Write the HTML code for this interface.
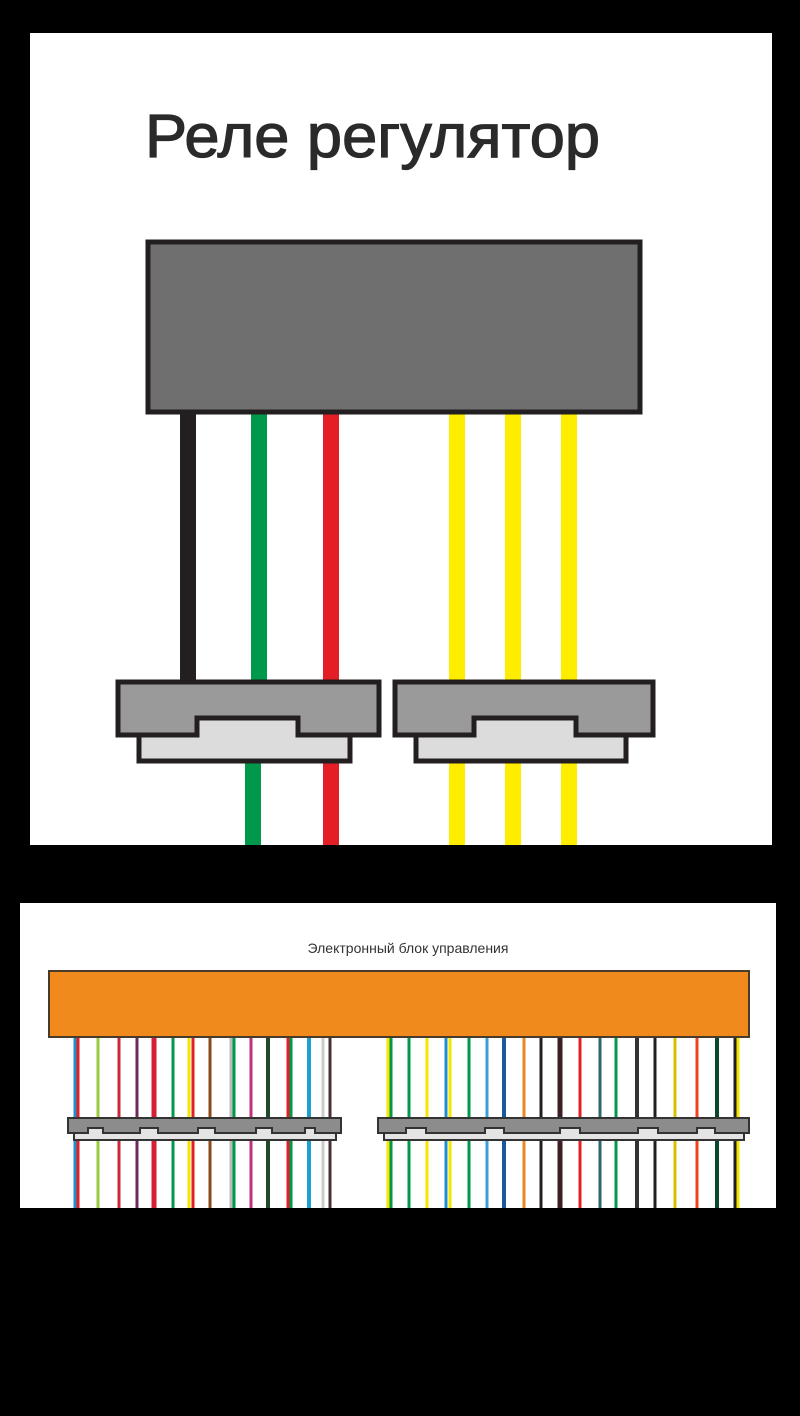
<!DOCTYPE html>
<html><head><meta charset="utf-8"><style>
html,body{margin:0;padding:0;background:#000;}
svg{display:block}
</style></head><body>
<svg width="800" height="1416" viewBox="0 0 800 1416" xmlns="http://www.w3.org/2000/svg">
<rect width="800" height="1416" fill="#000"/>
<rect x="30" y="33" width="742" height="812" fill="#fff"/>
<text x="145" y="157" font-family="Liberation Sans, sans-serif" font-size="61" textLength="455" lengthAdjust="spacingAndGlyphs" fill="#2a2a2a" stroke="#2a2a2a" stroke-width="1.2">Реле регулятор</text>
<g stroke-width="16">
<line x1="188" y1="410" x2="188" y2="690" stroke="#231f20"/>
<line x1="259" y1="410" x2="259" y2="690" stroke="#00984a"/>
<line x1="331" y1="410" x2="331" y2="845" stroke="#e31e25"/>
<line x1="253" y1="740" x2="253" y2="845" stroke="#00984a"/>
<line x1="457" y1="410" x2="457" y2="845" stroke="#ffed00"/>
<line x1="513" y1="410" x2="513" y2="845" stroke="#ffed00"/>
<line x1="569" y1="410" x2="569" y2="845" stroke="#ffed00"/>
</g>
<rect x="148" y="242" width="492" height="170" fill="#6f6f6f" stroke="#231f20" stroke-width="5"/>
<g stroke="#231f20" stroke-width="5" stroke-linejoin="miter">
<rect x="139" y="718" width="211" height="43" fill="#dcdcdc"/>
<polygon points="118,682 379,682 379,735 298,735 298,718 197,718 197,735 118,735" fill="#9a9a9a"/>
<rect x="416" y="718" width="210" height="43" fill="#dcdcdc"/>
<polygon points="395,682 653,682 653,735 576,735 576,718 474,718 474,735 395,735" fill="#9a9a9a"/>
</g>
<rect x="20" y="903" width="756" height="305" fill="#fff"/>
<text x="408" y="953" text-anchor="middle" font-family="Liberation Sans, sans-serif" font-size="14" fill="#333">Электронный блок управления</text>
<g stroke-width="3">
<line x1="75" y1="1037" x2="75" y2="1208" stroke="#1d8fd0"/>
<line x1="78" y1="1037" x2="78" y2="1208" stroke="#e31e25"/>
<line x1="98" y1="1037" x2="98" y2="1208" stroke="#9acb3c"/>
<line x1="119" y1="1037" x2="119" y2="1208" stroke="#c8283a"/>
<line x1="137" y1="1037" x2="137" y2="1208" stroke="#6a2c5a"/>
<line x1="154" y1="1037" x2="154" y2="1208" stroke="#d41f35" stroke-width="5"/>
<line x1="173" y1="1037" x2="173" y2="1208" stroke="#00984a"/>
<line x1="189" y1="1037" x2="189" y2="1208" stroke="#f5e600"/>
<line x1="193" y1="1037" x2="193" y2="1208" stroke="#e31e25"/>
<line x1="210" y1="1037" x2="210" y2="1208" stroke="#8a4a1a"/>
<line x1="231" y1="1037" x2="231" y2="1208" stroke="#bbbbbb"/>
<line x1="234" y1="1037" x2="234" y2="1208" stroke="#00984a"/>
<line x1="251" y1="1037" x2="251" y2="1208" stroke="#c0307a"/>
<line x1="268" y1="1037" x2="268" y2="1208" stroke="#1f4a2a" stroke-width="4"/>
<line x1="288" y1="1037" x2="288" y2="1208" stroke="#e31e25"/>
<line x1="291" y1="1037" x2="291" y2="1208" stroke="#00984a"/>
<line x1="309" y1="1037" x2="309" y2="1208" stroke="#1d9fd0" stroke-width="4"/>
<line x1="323" y1="1037" x2="323" y2="1208" stroke="#cccccc"/>
<line x1="330" y1="1037" x2="330" y2="1208" stroke="#4a3030"/>
<line x1="388" y1="1037" x2="388" y2="1208" stroke="#f5e600"/>
<line x1="391" y1="1037" x2="391" y2="1208" stroke="#00984a"/>
<line x1="409" y1="1037" x2="409" y2="1208" stroke="#00984a"/>
<line x1="427" y1="1037" x2="427" y2="1208" stroke="#f5e600"/>
<line x1="446" y1="1037" x2="446" y2="1208" stroke="#1d8fd0"/>
<line x1="450" y1="1037" x2="450" y2="1208" stroke="#f5e600"/>
<line x1="469" y1="1037" x2="469" y2="1208" stroke="#00984a"/>
<line x1="487" y1="1037" x2="487" y2="1208" stroke="#3aa0d8"/>
<line x1="504" y1="1037" x2="504" y2="1208" stroke="#1a5a9a" stroke-width="4"/>
<line x1="524" y1="1037" x2="524" y2="1208" stroke="#e88a20"/>
<line x1="541" y1="1037" x2="541" y2="1208" stroke="#231f20"/>
<line x1="560" y1="1037" x2="560" y2="1208" stroke="#3a2020" stroke-width="5"/>
<line x1="580" y1="1037" x2="580" y2="1208" stroke="#e31e25"/>
<line x1="600" y1="1037" x2="600" y2="1208" stroke="#2a6a6a"/>
<line x1="616" y1="1037" x2="616" y2="1208" stroke="#00984a"/>
<line x1="637" y1="1037" x2="637" y2="1208" stroke="#333" stroke-width="4"/>
<line x1="655" y1="1037" x2="655" y2="1208" stroke="#231f20"/>
<line x1="675" y1="1037" x2="675" y2="1208" stroke="#d8c000"/>
<line x1="697" y1="1037" x2="697" y2="1208" stroke="#f04020"/>
<line x1="717" y1="1037" x2="717" y2="1208" stroke="#0a4a2a" stroke-width="4"/>
<line x1="735" y1="1037" x2="735" y2="1208" stroke="#231f20"/>
<line x1="738" y1="1037" x2="738" y2="1208" stroke="#f5e600"/>
</g>
<rect x="49" y="971" width="700" height="66" fill="#f08a1c" stroke="#4a3a2a" stroke-width="2"/>
<g stroke="#333" stroke-width="2">
<rect x="74" y="1128" width="262" height="12" fill="#e4e4e4"/>
<polygon points="68,1118 341,1118 341,1133 315,1133 315,1128 305,1128 305,1133 272,1133 272,1128 256,1128 256,1133 215,1133 215,1128 198,1128 198,1133 158,1133 158,1128 140,1128 140,1133 103,1133 103,1128 88,1128 88,1133 68,1133" fill="#8c8c8c"/>
<rect x="384" y="1128" width="360" height="12" fill="#e4e4e4"/>
<polygon points="378,1118 749,1118 749,1133 715,1133 715,1128 697,1128 697,1133 658,1133 658,1128 638,1128 638,1133 580,1133 580,1128 560,1128 560,1133 504,1133 504,1128 485,1128 485,1133 426,1133 426,1128 406,1128 406,1133 378,1133" fill="#8c8c8c"/>
</g>
</svg>
</body></html>
